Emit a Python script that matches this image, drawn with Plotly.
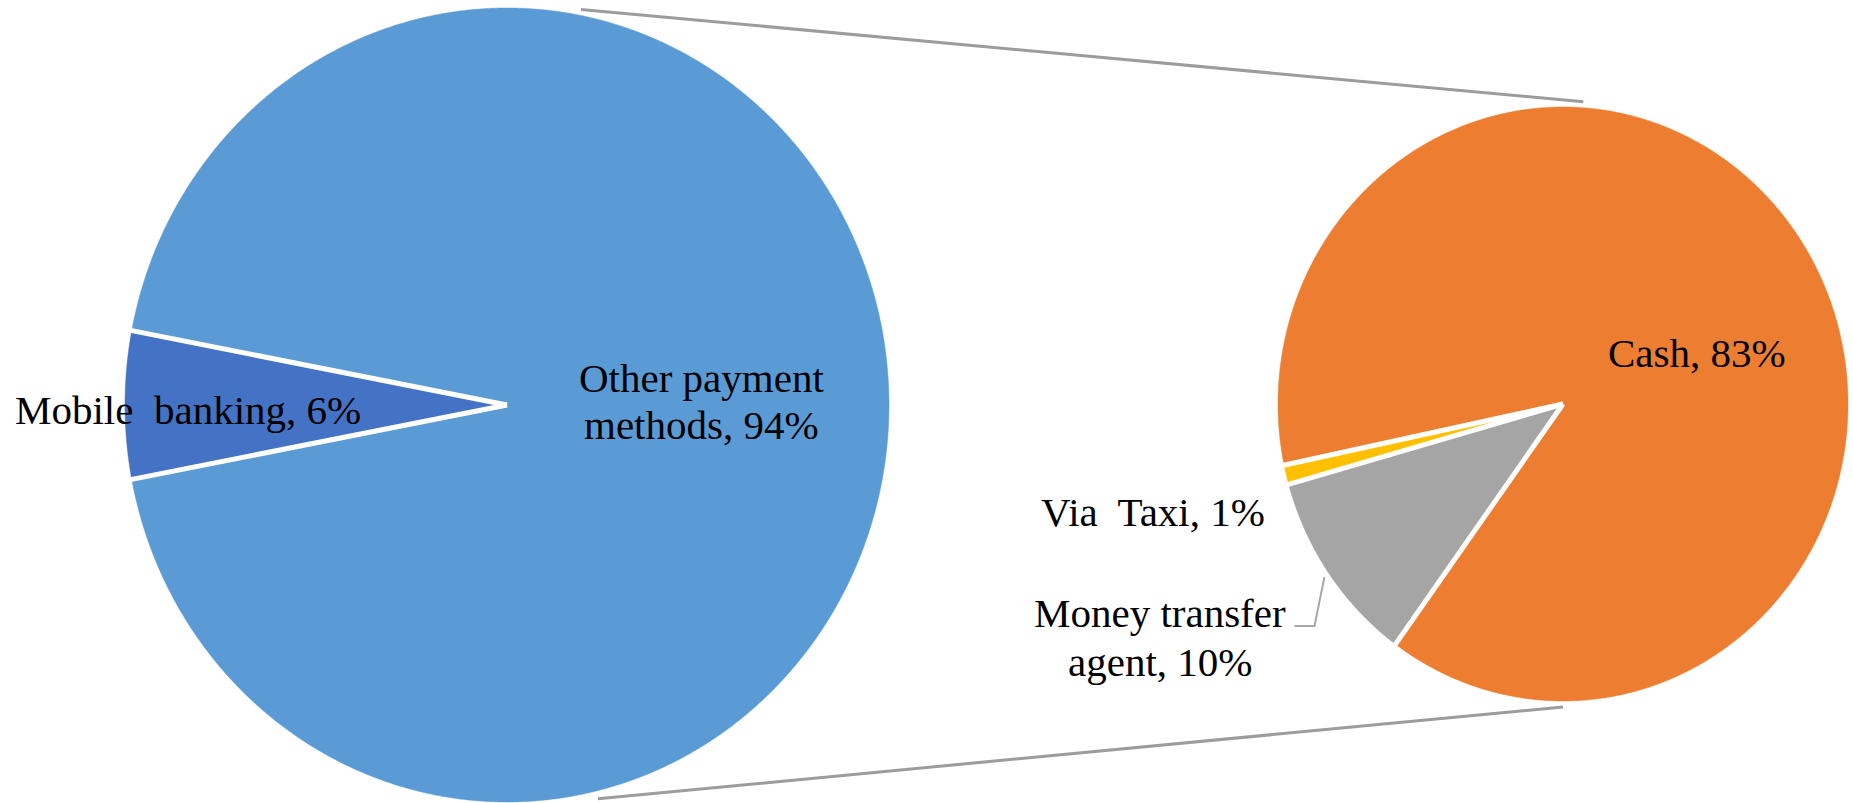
import numpy as np
import plotly.graph_objects as go

# Primary pie: how payments are made
main_labels = ["Mobile banking", "Other payment methods"]
main_values = [6, 94]
main_colors = ["#4472C4", "#5B9BD5"]

# Secondary pie: breakdown of the other payment methods
sub_labels = ["Money transfer agent", "Via Taxi", "Cash"]
sub_values = [10, 1, 83]
sub_colors = ["#A5A5A5", "#FFC000", "#ED7D31"]

W, H = 1853, 803
FONT = dict(family="Liberation Serif, Times New Roman, serif", size=41, color="#000000")

# Pie geometry in page pixels (y grows downward)
MAIN = dict(cx=507, cy=405, rx=382, ry=397)
SUB = dict(cx=1563, cy=404, rx=285, ry=297)


def point(p, ang, k=1.0):
    a = np.radians(ang)
    return p["cx"] + k * p["rx"] * np.cos(a), p["cy"] - k * p["ry"] * np.sin(a)


def slices(values, start, p):
    """Clockwise wedges starting at `start` degrees; returns (x, y, a0, a1)."""
    total = float(sum(values))
    out = []
    a0 = start
    for v in values:
        a1 = a0 - 360.0 * v / total
        n = max(8, int(abs(a0 - a1) * 4))
        angs = np.linspace(a0, a1, n)
        xs, ys = point(p, angs)
        xs = np.concatenate([[p["cx"]], xs, [p["cx"]]])
        ys = np.concatenate([[p["cy"]], ys, [p["cy"]]])
        out.append((xs, ys, a0, a1))
        a0 = a1
    return out


def draw_pie(wedges, labels, values, colors, p):
    for (xs, ys, a0, a1), lab, val, col in zip(wedges, labels, values, colors):
        fig.add_trace(go.Scatter(x=xs, y=ys, fill="toself", fillcolor=col, mode="lines",
                                 line=dict(color=col, width=0.5, simplify=False),
                                 text=f"{lab}, {val}%", hoverinfo="text", showlegend=False))
    # white separators along each slice boundary
    for (_, _, a0, _) in wedges:
        ex, ey = point(p, a0, 1.01)
        fig.add_trace(go.Scatter(x=[p["cx"], ex], y=[p["cy"], ey], mode="lines",
                                 line=dict(color="white", width=5),
                                 hoverinfo="skip", showlegend=False))


fig = go.Figure()

# Connector lines between the two pies
for a_main, a_sub, k_main in [(79, 86, 1.015), (-76.5, -90, 1.02)]:
    x0, y0 = point(MAIN, a_main, k_main)
    x1, y1 = point(SUB, a_sub, 1.02)
    fig.add_trace(go.Scatter(x=[x0, x1], y=[y0, y1], mode="lines",
                             line=dict(color="#9C9C9C", width=3),
                             hoverinfo="skip", showlegend=False))

# Mobile banking slice centred on the left
main_start = 180 + 360.0 * main_values[0] / sum(main_values) / 2
main_wedges = slices(main_values, main_start, MAIN)
draw_pie(main_wedges, main_labels, main_values, main_colors, MAIN)

sub_wedges = slices(sub_values, 234, SUB)
draw_pie(sub_wedges, sub_labels, sub_values, sub_colors, SUB)

# Leader line for the money transfer agent label
mta_mid = (sub_wedges[0][2] + sub_wedges[0][3]) / 2
lx, ly = point(SUB, mta_mid, 1.02)
fig.add_trace(go.Scatter(x=[lx, lx - 10, lx - 30], y=[ly, ly + 49, ly + 49], mode="lines",
                         line=dict(color="#A6A6A6", width=2),
                         hoverinfo="skip", showlegend=False))

# Data labels (one annotation per text line)
def label(lines, x, y, spacing=47):
    top = y - spacing * (len(lines) - 1) / 2
    for i, t in enumerate(lines):
        fig.add_annotation(x=x, y=top + i * spacing, text=t, showarrow=False,
                           font=FONT, xanchor="center", yanchor="middle")

label([f"Mobile\u00a0 banking, {main_values[0]}%"], 188, 410)
label(["Other payment", f"methods, {main_values[1]}%"], 701, 401)
label([f"{sub_labels[2]}, {sub_values[2]}%"], 1697, 353)
label([f"Via\u00a0 Taxi, {sub_values[1]}%"], 1153, 512)
label(["Money transfer", f"agent, {sub_values[0]}%"], 1160, 637, spacing=49)

fig.update_layout(
    width=W, height=H, autosize=False,
    margin=dict(l=0, r=0, t=0, b=0),
    paper_bgcolor="white", plot_bgcolor="white",
    xaxis=dict(range=[0, W], visible=False, fixedrange=True),
    yaxis=dict(range=[H, 0], visible=False, fixedrange=True),
    showlegend=False,
)

fig.write_html("out.html")
